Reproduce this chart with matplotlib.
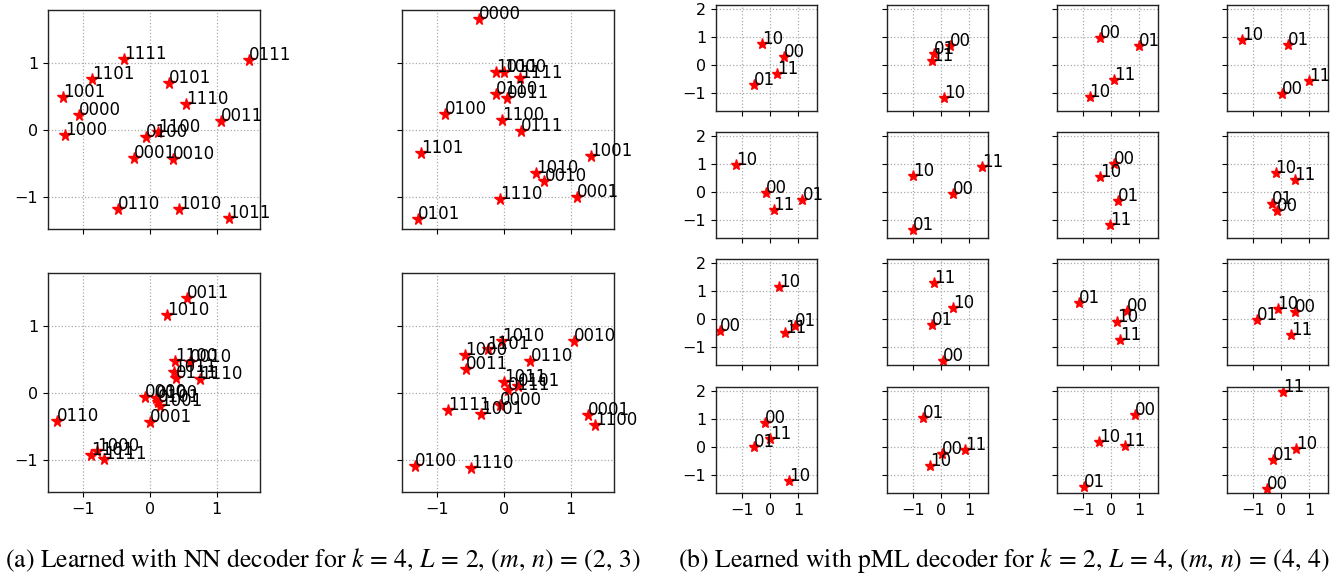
import matplotlib
matplotlib.use('Agg')
import matplotlib.pyplot as plt

plt.rcParams['mathtext.fontset'] = 'stix'

# (a) NN decoder, k=4: 16 codewords per panel, labels in order 0000 .. 1111
labels_a = [format(i, '04b') for i in range(16)]

a1_x = [-1.06, -0.23, 0.35, 1.06, -0.05, 0.29, -0.48, 1.49, -1.26, -1.30, 0.44, 1.18, 0.13, -0.86, 0.54, -0.38]
a1_y = [0.22, -0.42, -0.44, 0.13, -0.11, 0.70, -1.18, 1.04, -0.07, 0.49, -1.18, -1.32, -0.03, 0.76, 0.38, 1.06]

a2_x = [-0.37, 1.09, 0.61, 0.05, -0.88, -1.28, -0.12, 0.26, 0.01, 1.30, 0.48, -0.12, -0.03, -1.24, -0.05, 0.25]
a2_y = [1.65, -1.00, -0.76, 0.47, 0.23, -1.33, 0.53, -0.02, 0.87, -0.39, -0.65, 0.87, 0.15, -0.34, -1.03, 0.78]

a3_x = [-0.07, 0.00, 0.60, 0.56, 0.10, 0.12, -1.38, 0.39, -0.78, 0.15, 0.26, 0.37, 0.38, -0.87, 0.76, -0.68]
a3_y = [-0.06, -0.43, 0.46, 1.41, -0.08, -0.13, -0.42, 0.22, -0.87, -0.19, 1.17, 0.31, 0.47, -0.93, 0.20, -0.98]

a4_x = [-0.05, 1.26, 1.05, -0.56, -1.33, 0.22, 0.40, 0.06, -0.58, -0.34, -0.03, 0.01, 1.37, -0.24, -0.49, -0.83]
a4_y = [-0.18, -0.33, 0.77, 0.36, -1.09, 0.11, 0.48, 0.04, 0.56, -0.31, 0.78, 0.16, -0.48, 0.66, -1.12, -0.26]

panels_a = [[(a1_x, a1_y), (a2_x, a2_y)],
            [(a3_x, a3_y), (a4_x, a4_y)]]

# (b) pML decoder, k=2: 4 codewords per panel, labels 00, 01, 10, 11
labels_b = ['00', '01', '10', '11']

b_x = [
    [[0.50, -0.56, -0.27, 0.26], [0.33, -0.26, 0.12, -0.30], [-0.38, 0.99, -0.76, 0.11], [0.04, 0.24, -1.38, 0.99]],
    [[-0.15, 1.16, -1.20, 0.13], [0.44, -1.00, -1.00, 1.48], [0.12, 0.26, -0.39, -0.02], [-0.13, -0.33, -0.19, 0.49]],
    [[-1.78, 0.89, 0.34, 0.53], [0.08, -0.33, 0.43, -0.24], [0.57, -1.15, 0.22, 0.32], [0.49, -0.85, -0.12, 0.37]],
    [[-0.19, -0.58, 0.69, 0.02], [0.05, -0.63, -0.40, 0.85], [0.86, -0.95, -0.41, 0.49], [-0.49, -0.27, 0.53, 0.08]],
]
b_y = [
    [[0.30, -0.72, 0.75, -0.30], [0.69, 0.39, -1.17, 0.16], [0.99, 0.69, -1.12, -0.54], [-1.02, 0.74, 0.90, -0.57]],
    [[-0.02, -0.26, 0.97, -0.62], [-0.05, -1.36, 0.585, 0.91], [1.00, -0.31, 0.55, -1.18], [-0.67, -0.43, 0.70, 0.45]],
    [[-0.42, -0.25, 1.16, -0.49], [-1.47, -0.20, 0.39, 1.28], [0.30, 0.585, -0.08, -0.75], [0.25, -0.02, 0.35, -0.57]],
    [[0.85, 0.01, -1.21, 0.30], [-0.23, 1.04, -0.66, -0.11], [1.16, -1.40, 0.19, 0.05], [-1.48, -0.45, -0.05, 1.97]],
]

caption_a = r'(a) Learned with NN decoder for $k\,=\,4$, $L\,=\,2$, $(m,\,n)\,=\,(2,\,3)$'
caption_b = r'(b) Learned with pML decoder for $k\,=\,2$, $L\,=\,4$, $(m,\,n)\,=\,(4,\,4)$'

W, H = 1340, 582
fig = plt.figure(figsize=(W / 100, H / 100), dpi=100)


def box(left, top, w, h):
    # pixel box (from top-left) -> figure fraction
    return [left / W, 1 - (top + h) / H, w / W, h / H]


def style(ax, xlim, ylim, yticks, show_x, show_y):
    ax.set_xlim(xlim)
    ax.set_ylim(ylim)
    ax.set_xticks([-1, 0, 1])
    ax.set_yticks(yticks)
    ax.grid(True, ls=':', color='#aaaaaa', lw=0.9)
    ax.set_axisbelow(True)
    ax.tick_params(labelsize=11.5, labelbottom=show_x, labelleft=show_y)
    for s in ax.spines.values():
        s.set_linewidth(1.0)
        s.set_color('#222222')


# left figure: 2x2 grid
a_left = [48, 402]
a_top = [10, 273]
for r in range(2):
    for c in range(2):
        ax = fig.add_axes(box(a_left[c], a_top[r], 212, 219))
        xs, ys = panels_a[r][c]
        ax.plot(xs, ys, 'r*', markersize=8.5)
        for lab, x, y in zip(labels_a, xs, ys):
            ax.text(x, y, lab, fontsize=12)
        style(ax, (-1.52, 1.65), (-1.48, 1.79), [-1, 0, 1], r == 1, c == 0)

# right figure: 4x4 grid
b_left = [716, 887, 1057, 1227]
b_top = [5, 132, 259, 387]
for r in range(4):
    for c in range(4):
        ax = fig.add_axes(box(b_left[c], b_top[r], 101, 106))
        xs, ys = b_x[r][c], b_y[r][c]
        ax.plot(xs, ys, 'r*', markersize=8)
        for lab, x, y in zip(labels_b, xs, ys):
            ax.text(x, y, lab, fontsize=12)
        style(ax, (-1.92, 1.68), (-1.63, 2.15), [-1, 0, 1, 2], r == 3, c == 0)

fig.text(5 / W, 1 - 567 / H, caption_a, fontsize=18.5, family='STIXGeneral', va='baseline')
fig.text(678 / W, 1 - 567 / H, caption_b, fontsize=18.5, family='STIXGeneral', va='baseline')

fig.savefig('out.png', dpi=100)
